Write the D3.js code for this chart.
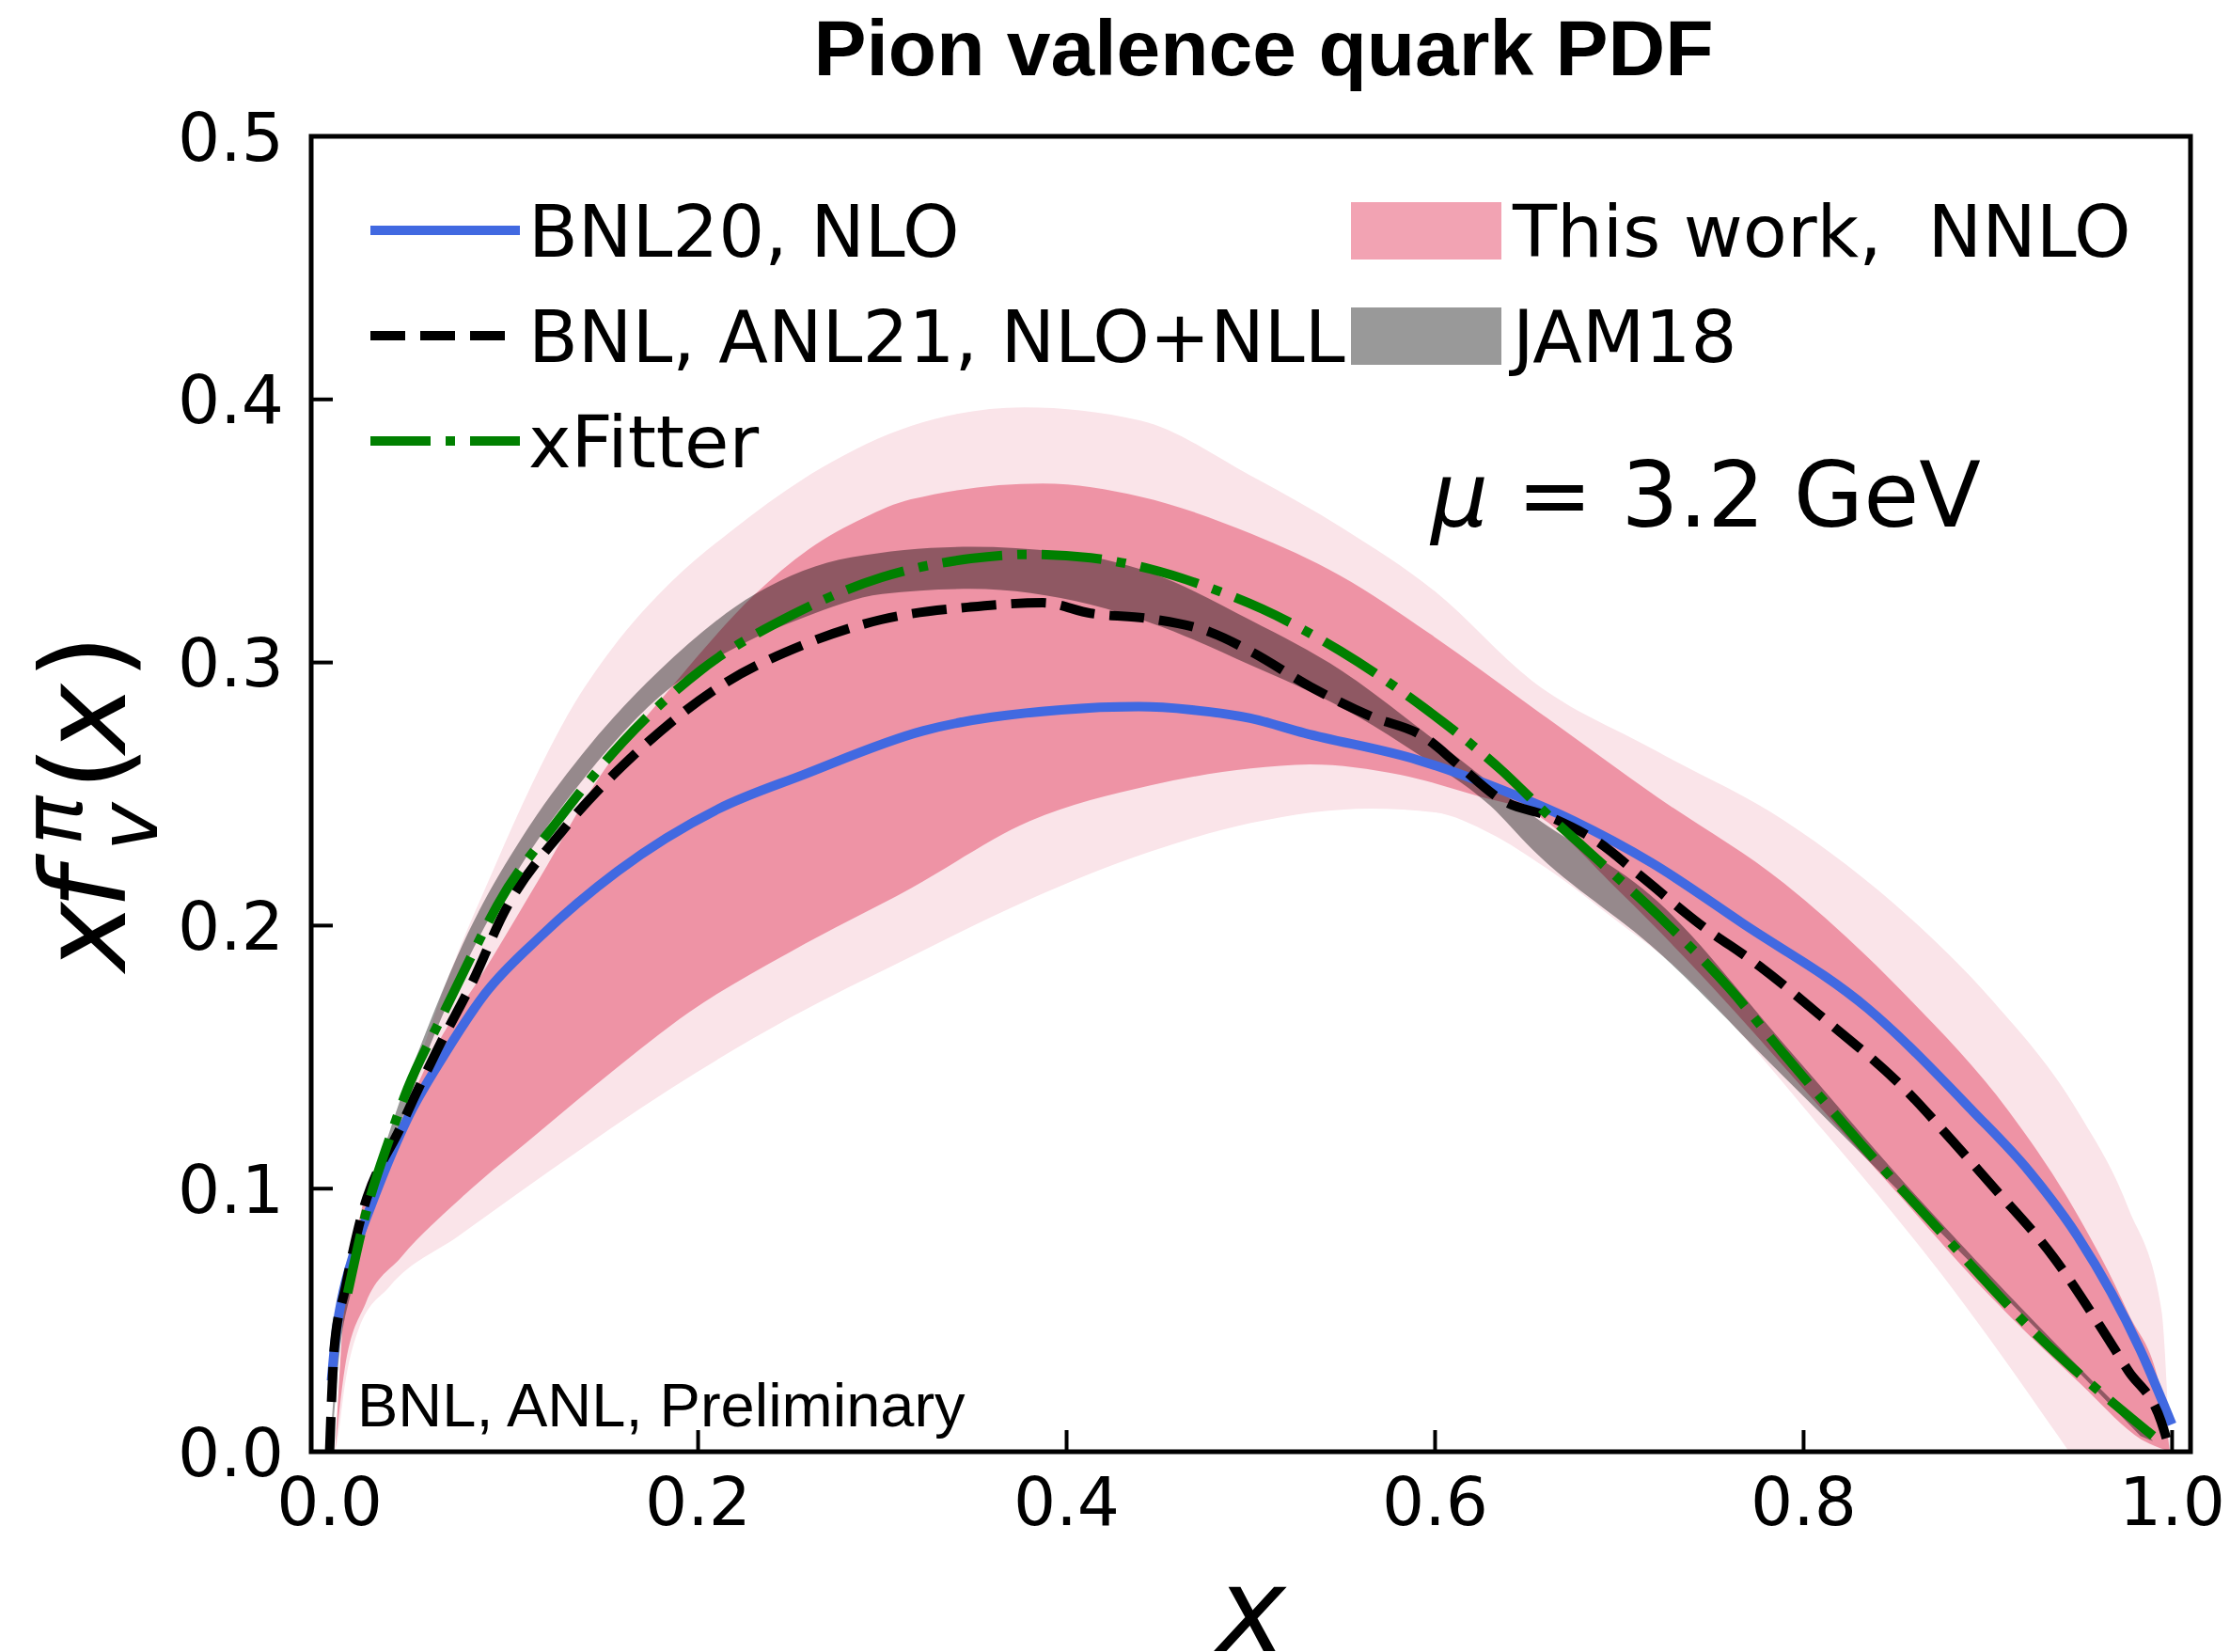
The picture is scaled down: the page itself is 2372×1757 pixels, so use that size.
<!DOCTYPE html>
<html lang="en">
<head>
    <meta charset="UTF-8">
    <title>Pion valence quark PDF</title>
    <style>
        body { margin: 0; background: #fff; }
        text { font-family: "DejaVu Sans", sans-serif; fill: #000; }
    </style>
</head>
<body>
    <div id="chart"></div>
    <script src="https://d3js.org/d3.v7.min.js"></script>
    <script>
        // ---- data: [x, x f(x)] ----
        var bnl20 = [[0.001,0.027],[0.0035,0.045],[0.0066,0.058],[0.0131,0.0753],[0.0228,0.0941],[0.0423,0.1267],
            [0.0619,0.1505],[0.0846,0.1743],[0.1139,0.1955],[0.1562,0.2206],[0.2115,0.2445],[0.257,0.2573],
            [0.322,0.274],[0.397,0.282],[0.439,0.2832],[0.468,0.282],[0.4997,0.2788],[0.529,0.2732],[0.5908,0.2629],
            [0.6298,0.2533],[0.6754,0.2397],[0.7176,0.2238],[0.7666,0.201],[0.8348,0.1685],
            [0.8918,0.1295],[0.9225,0.1065],[0.9487,0.0819],[0.9828,0.0386],[0.9999,0.0104]];

        var bnlAnl21 = [[0.0,0.0],[0.0026,0.04],[0.0085,0.062],[0.0157,0.0853],[0.0391,0.1242],[0.0586,0.153],
            [0.0781,0.1794],[0.0944,0.2046],[0.1269,0.2365],[0.1659,0.2653],[0.2115,0.2908],[0.257,0.3067],
            [0.2993,0.3163],[0.348,0.3211],[0.387,0.3227],[0.4131,0.3187],[0.4456,0.3166],[0.478,0.3115],
            [0.4997,0.3043],[0.5323,0.2908],[0.5648,0.2796],[0.594,0.2717],[0.6136,0.2605],[0.6363,0.2477],
            [0.6624,0.2413],[0.6884,0.2318],[0.7113,0.219],[0.7437,0.2005],[0.7762,0.1845],[0.8087,0.166],
            [0.8575,0.136],[0.8803,0.1185],[0.9031,0.1005],[0.9356,0.074],[0.9616,0.047],[0.976,0.031],
            [0.9941,0.0114],[0.999,0.0]];

        var xfitter = [[0.0098,0.0603],[0.0196,0.0904],[0.0326,0.1192],[0.0423,0.138],[0.0603,0.1645],[0.0781,0.19],
            [0.0911,0.2078],[0.1237,0.2397],[0.1594,0.27],[0.2017,0.2972],[0.2505,0.3179],[0.2993,0.3323],
            [0.348,0.3395],[0.3806,0.3411],[0.4131,0.3398],[0.4456,0.3355],[0.478,0.3283],[0.5063,0.3203],
            [0.5485,0.3044],[0.594,0.2828],[0.6363,0.2589],[0.6624,0.2413],[0.6851,0.227],[0.7209,0.204],
            [0.7599,0.176],[0.7893,0.1512],[0.8315,0.1167],[0.8705,0.0866],[0.9259,0.045],[0.9897,0.006]];

        var nnloOuterUp = [[0.003,0.0],[0.01,0.05],[0.03,0.105],[0.06,0.172],[0.09,0.223],[0.11,0.254],[0.13,0.281],
            [0.153,0.305],[0.186,0.331],[0.218,0.35],[0.267,0.374],[0.316,0.39],[0.377,0.397],[0.44,0.392],
            [0.5,0.371],[0.55,0.351],[0.6,0.327],[0.6527,0.293],[0.7211,0.266],[0.7893,0.24],[0.8576,0.203],
            [0.9031,0.171],[0.9487,0.1295],[0.976,0.093],[0.9942,0.054],[0.9988,0.0]];
        var nnloOuterLo = [[0.003,0.0],[0.0047,0.0064],[0.0082,0.025],[0.0157,0.0465],[0.0326,0.0628],[0.07,0.082],
            [0.12,0.107],[0.185,0.138],[0.25,0.165],[0.315,0.188],[0.38,0.21],[0.445,0.228],[0.5,0.239],
            [0.565,0.2445],[0.6,0.243],[0.63,0.235],[0.66,0.222],[0.7,0.201],[0.7278,0.186],[0.8121,0.121],
            [0.8804,0.0624],[0.9441,0.0]];

        var nnloInnerUp = [[0.003,0.0],[0.0082,0.058],[0.0157,0.087],[0.039,0.126],[0.0586,0.155],[0.0814,0.18],
            [0.114,0.218],[0.146,0.256],[0.186,0.291],[0.231,0.326],[0.26,0.343],[0.29,0.355],[0.3155,0.362],
            [0.387,0.368],[0.44,0.363],[0.5,0.349],[0.5485,0.333],[0.597,0.311],[0.6527,0.283],[0.7211,0.2486],
            [0.7893,0.2161],[0.8576,0.172],[0.9113,0.1295],[0.9487,0.09],[0.976,0.053],[0.9942,0.022],[0.9988,0.0]];
        var nnloInnerLo = [[0.003,0.0],[0.0082,0.0315],[0.0196,0.0565],[0.039,0.0741],[0.0716,0.0966],[0.114,0.1217],
            [0.153,0.1443],[0.195,0.167],[0.25,0.19],[0.3155,0.2142],[0.38,0.2397],[0.4456,0.2533],[0.5,0.2597],
            [0.532,0.2613],[0.581,0.2573],[0.623,0.2493],[0.653,0.2429],[0.7,0.213],[0.75,0.177],[0.8,0.138],
            [0.85,0.099],[0.9,0.06],[0.95,0.026],[0.985,0.004],[0.999,0.0]];

        var jamUp = [[0.001,0.01],[0.005,0.045],[0.012,0.07],[0.026,0.107],[0.036,0.129],[0.052,0.159],[0.075,0.197],
            [0.104,0.233],[0.137,0.265],[0.179,0.297],[0.231,0.326],[0.283,0.34],[0.348,0.344],[0.397,0.342],
            [0.446,0.334],[0.5,0.316],[0.549,0.297],[0.597,0.272],[0.6527,0.242],[0.7211,0.209],[0.7893,0.155],
            [0.8576,0.1],[0.9259,0.049],[0.9897,0.004]];
        var jamLo = [[0.001,0.0],[0.005,0.035],[0.012,0.062],[0.026,0.098],[0.036,0.12],[0.052,0.15],[0.075,0.187],
            [0.104,0.223],[0.137,0.255],[0.179,0.287],[0.224,0.307],[0.257,0.317],[0.3,0.326],[0.348,0.328],
            [0.413,0.322],[0.446,0.315],[0.5,0.299],[0.549,0.283],[0.591,0.265],[0.63,0.2455],[0.6527,0.229],
            [0.7211,0.19],[0.7893,0.1425],[0.8576,0.095],[0.9259,0.047],[0.9828,0.006]];

        var xTicks = [0, 0.2, 0.4, 0.6, 0.8, 1.0];
        var yTicks = [0, 0.1, 0.2, 0.3, 0.4, 0.5];
        var lineLabels = ["BNL20, NLO", "BNL, ANL21, NLO+NLL", "xFitter"];
        var bandLabels = ["This work,  NNLO", "JAM18"];

        // ---- layout (px) ----
        var W = 2372, H = 1757;
        var plotL = 331, plotR = 2330, plotT = 145, plotB = 1544;

        var svg = d3.select("#chart").append("svg")
            .attr("width", W).attr("height", H);

        var x = d3.scaleLinear().domain([-0.01, 1.01]).range([plotL, plotR]);
        var y = d3.scaleLinear().domain([0, 0.5]).range([plotB, plotT]);

        svg.append("clipPath").attr("id", "plotclip")
            .append("rect").attr("x", plotL).attr("y", plotT)
            .attr("width", plotR - plotL).attr("height", plotB - plotT);

        var line = d3.line()
            .x(function(d) { return x(d[0]); })
            .y(function(d) { return y(d[1]); })
            .curve(d3.curveMonotoneX);

        // closed band from an upper and a lower edge
        function band(up, lo) {
            var back = lo.slice().reverse();
            return line(up) + "L" + line(back).slice(1) + "Z";
        }

        var plot = svg.append("g").attr("clip-path", "url(#plotclip)");

        plot.append("path").attr("d", band(nnloOuterUp, nnloOuterLo)).attr("fill", "#fae4e9");
        plot.append("path").attr("d", band(nnloInnerUp, nnloInnerLo)).attr("fill", "#ee93a5");
        plot.append("path").attr("d", band(jamUp, jamLo)).attr("fill", "#000").attr("fill-opacity", 0.4);

        plot.append("path").attr("d", line(bnl20))
            .attr("fill", "none").attr("stroke", "#4169e1").attr("stroke-width", 10);
        plot.append("path").attr("d", line(bnlAnl21))
            .attr("fill", "none").attr("stroke", "#000").attr("stroke-width", 10)
            .attr("stroke-dasharray", "37,16");
        plot.append("path").attr("d", line(xfitter))
            .attr("fill", "none").attr("stroke", "#008000").attr("stroke-width", 10)
            .attr("stroke-dasharray", "64,16,10,16");

        // ---- axes ----
        svg.append("rect").attr("x", plotL).attr("y", plotT)
            .attr("width", plotR - plotL).attr("height", plotB - plotT)
            .attr("fill", "none").attr("stroke", "#000").attr("stroke-width", 5);

        svg.selectAll(".xtick").data(xTicks).enter().append("line")
            .attr("x1", function(d) { return x(d); }).attr("x2", function(d) { return x(d); })
            .attr("y1", plotB).attr("y2", plotB - 23)
            .attr("stroke", "#000").attr("stroke-width", 4);
        svg.selectAll(".xlab").data(xTicks).enter().append("text")
            .attr("x", function(d) { return x(d); }).attr("y", 1622)
            .attr("text-anchor", "middle").style("font-size", "71px")
            .text(function(d) { return d.toFixed(1); });

        svg.selectAll(".ytick").data(yTicks).enter().append("line")
            .attr("x1", plotL).attr("x2", plotL + 23)
            .attr("y1", function(d) { return y(d); }).attr("y2", function(d) { return y(d); })
            .attr("stroke", "#000").attr("stroke-width", 4);
        svg.selectAll(".ylab").data(yTicks).enter().append("text")
            .attr("x", 302).attr("y", function(d) { return y(d); }).attr("dy", "0.36em")
            .attr("text-anchor", "end").style("font-size", "71px")
            .text(function(d) { return d.toFixed(1); });

        // y label  x f^pi_v (x)
        var yl = svg.append("g").attr("transform", "translate(133,1029) rotate(-90)");
        function ypart(u, v, size, italic, s) {
            yl.append("text").attr("x", u).attr("y", v)
                .style("font-size", size + "px").style("font-style", italic ? "italic" : "normal")
                .text(s);
        }
        ypart(-4, 0, 124, true, "x");
        ypart(62, 0, 124, true, "f");
        ypart(130, -46, 87, true, "\u03c0");
        ypart(124, 34, 87, true, "v");
        ypart(188, 0, 124, false, "(");
        ypart(228, 0, 124, true, "x");
        ypart(306, 0, 124, false, ")");

        svg.append("text").attr("x", 1331).attr("y", 1756)
            .attr("text-anchor", "middle").style("font-size", "124px").style("font-style", "italic")
            .text("x");

        svg.append("text").attr("x", 1344).attr("y", 80)
            .attr("text-anchor", "middle")
            .style("font-family", "'Liberation Sans', Arial, sans-serif")
            .style("font-weight", "bold").style("font-size", "84px")
            .text("Pion valence quark PDF");

        // ---- legend ----
        var rows = [245, 357, 469];
        var lineStyles = [
            {stroke: "#4169e1", dash: null},
            {stroke: "#000", dash: "37,16"},
            {stroke: "#008000", dash: "64,16,10,16"}
        ];
        lineLabels.forEach(function(lab, i) {
            svg.append("line").attr("x1", 394).attr("x2", 553)
                .attr("y1", rows[i]).attr("y2", rows[i])
                .attr("stroke", lineStyles[i].stroke).attr("stroke-width", 10)
                .attr("stroke-dasharray", lineStyles[i].dash);
            svg.append("text").attr("x", 562).attr("y", rows[i] + 28)
                .style("font-size", "77px").text(lab);
        });
        var patchFill = ["#f2a3b3", "#999999"];
        bandLabels.forEach(function(lab, i) {
            svg.append("rect").attr("x", 1437).attr("y", rows[i] - 30)
                .attr("width", 160).attr("height", 61).attr("fill", patchFill[i]);
            svg.append("text").attr("x", 1609).attr("y", rows[i] + 28)
                .style("font-size", "77px").style("white-space", "pre").text(lab);
        });

        var mu = svg.append("text").attr("x", 1522).attr("y", 560).style("font-size", "96px")
            .style("white-space", "pre");
        mu.append("tspan").style("font-style", "italic").text("\u03bc");
        mu.append("tspan").text(" = 3.2 GeV");

        svg.append("text").attr("x", 380).attr("y", 1517)
            .style("font-family", "'Liberation Sans', Arial, sans-serif").style("font-size", "65px")
            .text("BNL, ANL, Preliminary");
    </script>
</body>
</html>
